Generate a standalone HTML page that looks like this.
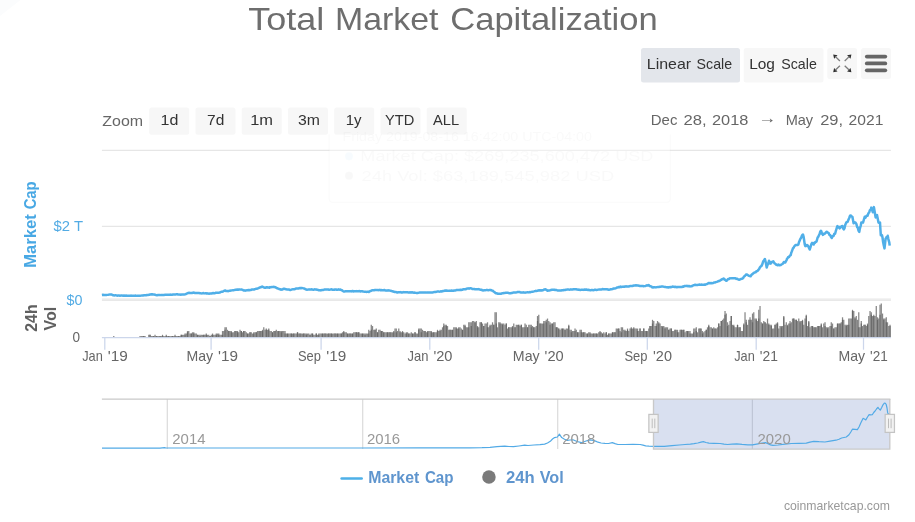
<!DOCTYPE html>
<html lang="en">
<head>
<meta charset="utf-8">
<title>Total Market Capitalization</title>
<style>
html,body{margin:0;padding:0;background:#fff;overflow:hidden}
svg{display:block}
text{font-family:"Liberation Sans", sans-serif;white-space:pre}
</style>
</head>
<body>
<svg width="915" height="522" viewBox="0 0 915 522">
<rect x="0" y="0" width="915" height="522" fill="#ffffff"/>
<path d="M0 0H20.5L0 16Z" fill="#fbfcfd"/>
<rect x="641.0" y="48.0" width="99.00" height="34.60" rx="2.5" fill="#e3e6eb"/>
<rect x="743.7" y="48.0" width="79.80" height="34.60" rx="2.5" fill="#f7f7f7"/>
<rect x="827.3" y="47.9" width="29.80" height="31.10" rx="2.5" fill="#f7f7f7"/>
<rect x="861.1" y="47.9" width="29.90" height="31.10" rx="2.5" fill="#f7f7f7"/>
<path d="M866.8 56.6H885.3" stroke="#666666" stroke-width="3.75" stroke-linecap="round" fill="none"/>
<path d="M866.8 63.45H885.3" stroke="#666666" stroke-width="3.75" stroke-linecap="round" fill="none"/>
<path d="M866.8 70.35H885.3" stroke="#666666" stroke-width="3.75" stroke-linecap="round" fill="none"/>
<path d="M833.20 54.40L837.50 55.30L834.10 58.70Z" fill="#2e2e2e"/><path d="M835.20 56.40L839.90 60.95" stroke="#7c7c7c" stroke-width="1.3" fill="none"/><path d="M851.40 54.40L847.10 55.30L850.50 58.70Z" fill="#2e2e2e"/><path d="M849.40 56.40L844.70 60.95" stroke="#7c7c7c" stroke-width="1.3" fill="none"/><path d="M833.20 72.30L837.50 71.40L834.10 68.00Z" fill="#2e2e2e"/><path d="M835.20 70.30L839.90 65.75" stroke="#7c7c7c" stroke-width="1.3" fill="none"/><path d="M851.40 72.30L847.10 71.40L850.50 68.00Z" fill="#2e2e2e"/><path d="M849.40 70.30L844.70 65.75" stroke="#7c7c7c" stroke-width="1.3" fill="none"/>
<path d="M101.9 150.3H890.9" stroke="#e6e6e6" stroke-width="1.25" fill="none"/>
<path d="M101.9 226.3H890.9" stroke="#e6e6e6" stroke-width="1.25" fill="none"/>
<path d="M101.9 298.9H890.9" stroke="#efefef" stroke-width="1.25" fill="none"/>
<path d="M101.9 300.1H890.9" stroke="#e1e1e1" stroke-width="1.25" fill="none"/>
<g fill="#5e5e5e" fill-opacity="0.75"><path d="M113.15 337.3v-1.25h1.25v1.25z"/><path d="M139.40 337.3v-1.25h1.25v1.25z"/><path d="M140.65 337.3v-1.25h1.25v1.25z"/><path d="M141.90 337.3v-1.25h1.25v1.25z"/><path d="M143.15 337.3v-1.25h1.25v1.25z"/><path d="M143.15 337.3v-1.25h1.25v1.25z"/><path d="M144.40 337.3v-1.25h1.25v1.25z"/><path d="M148.15 337.3v-2.50h1.25v2.50z"/><path d="M149.40 337.3v-2.50h1.25v2.50z"/><path d="M149.40 337.3v-2.50h1.25v2.50z"/><path d="M150.65 337.3v-1.25h1.25v1.25z"/><path d="M151.90 337.3v-1.25h1.25v1.25z"/><path d="M153.15 337.3v-1.25h1.25v1.25z"/><path d="M153.15 337.3v-1.25h1.25v1.25z"/><path d="M154.40 337.3v-2.50h1.25v2.50z"/><path d="M155.65 337.3v-1.25h1.25v1.25z"/><path d="M155.65 337.3v-1.25h1.25v1.25z"/><path d="M156.90 337.3v-1.25h1.25v1.25z"/><path d="M158.15 337.3v-1.25h1.25v1.25z"/><path d="M159.40 337.3v-1.25h1.25v1.25z"/><path d="M159.40 337.3v-1.25h1.25v1.25z"/><path d="M160.65 337.3v-1.25h1.25v1.25z"/><path d="M161.90 337.3v-2.50h1.25v2.50z"/><path d="M161.90 337.3v-1.25h1.25v1.25z"/><path d="M163.15 337.3v-1.25h1.25v1.25z"/><path d="M164.40 337.3v-1.25h1.25v1.25z"/><path d="M165.65 337.3v-2.50h1.25v2.50z"/><path d="M165.65 337.3v-1.25h1.25v1.25z"/><path d="M166.90 337.3v-1.25h1.25v1.25z"/><path d="M168.15 337.3v-1.25h1.25v1.25z"/><path d="M168.15 337.3v-1.25h1.25v1.25z"/><path d="M169.40 337.3v-1.25h1.25v1.25z"/><path d="M170.65 337.3v-1.25h1.25v1.25z"/><path d="M171.90 337.3v-1.25h1.25v1.25z"/><path d="M171.90 337.3v-1.25h1.25v1.25z"/><path d="M173.15 337.3v-1.25h1.25v1.25z"/><path d="M174.40 337.3v-1.25h1.25v1.25z"/><path d="M174.40 337.3v-2.50h1.25v2.50z"/><path d="M175.65 337.3v-1.25h1.25v1.25z"/><path d="M176.90 337.3v-1.25h1.25v1.25z"/><path d="M178.15 337.3v-1.25h1.25v1.25z"/><path d="M178.15 337.3v-1.25h1.25v1.25z"/><path d="M179.40 337.3v-1.25h1.25v1.25z"/><path d="M180.65 337.3v-2.50h1.25v2.50z"/><path d="M180.65 337.3v-2.50h1.25v2.50z"/><path d="M181.90 337.3v-2.50h1.25v2.50z"/><path d="M183.15 337.3v-2.50h1.25v2.50z"/><path d="M184.40 337.3v-2.50h1.25v2.50z"/><path d="M184.40 337.3v-3.75h1.25v3.75z"/><path d="M185.65 337.3v-3.75h1.25v3.75z"/><path d="M186.90 337.3v-5.00h1.25v5.00z"/><path d="M186.90 337.3v-6.25h1.25v6.25z"/><path d="M188.15 337.3v-6.25h1.25v6.25z"/><path d="M189.40 337.3v-3.75h1.25v3.75z"/><path d="M190.65 337.3v-3.75h1.25v3.75z"/><path d="M190.65 337.3v-3.75h1.25v3.75z"/><path d="M191.90 337.3v-5.00h1.25v5.00z"/><path d="M193.15 337.3v-3.75h1.25v3.75z"/><path d="M193.15 337.3v-5.00h1.25v5.00z"/><path d="M194.40 337.3v-3.75h1.25v3.75z"/><path d="M195.65 337.3v-3.75h1.25v3.75z"/><path d="M196.90 337.3v-2.50h1.25v2.50z"/><path d="M196.90 337.3v-2.50h1.25v2.50z"/><path d="M198.15 337.3v-2.50h1.25v2.50z"/><path d="M199.40 337.3v-1.25h1.25v1.25z"/><path d="M199.40 337.3v-2.50h1.25v2.50z"/><path d="M200.65 337.3v-2.50h1.25v2.50z"/><path d="M201.90 337.3v-2.50h1.25v2.50z"/><path d="M203.15 337.3v-2.50h1.25v2.50z"/><path d="M203.15 337.3v-2.50h1.25v2.50z"/><path d="M204.40 337.3v-2.50h1.25v2.50z"/><path d="M205.65 337.3v-3.75h1.25v3.75z"/><path d="M205.65 337.3v-2.50h1.25v2.50z"/><path d="M206.90 337.3v-2.50h1.25v2.50z"/><path d="M208.15 337.3v-2.50h1.25v2.50z"/><path d="M209.40 337.3v-1.25h1.25v1.25z"/><path d="M209.40 337.3v-1.25h1.25v1.25z"/><path d="M210.65 337.3v-2.50h1.25v2.50z"/><path d="M211.90 337.3v-3.75h1.25v3.75z"/><path d="M211.90 337.3v-2.50h1.25v2.50z"/><path d="M213.15 337.3v-2.50h1.25v2.50z"/><path d="M214.40 337.3v-2.50h1.25v2.50z"/><path d="M215.65 337.3v-2.50h1.25v2.50z"/><path d="M215.65 337.3v-3.75h1.25v3.75z"/><path d="M216.90 337.3v-3.75h1.25v3.75z"/><path d="M218.15 337.3v-3.75h1.25v3.75z"/><path d="M218.15 337.3v-2.50h1.25v2.50z"/><path d="M219.40 337.3v-2.50h1.25v2.50z"/><path d="M220.65 337.3v-2.50h1.25v2.50z"/><path d="M221.90 337.3v-2.50h1.25v2.50z"/><path d="M221.90 337.3v-6.25h1.25v6.25z"/><path d="M223.15 337.3v-6.25h1.25v6.25z"/><path d="M224.40 337.3v-7.50h1.25v7.50z"/><path d="M224.40 337.3v-10.00h1.25v10.00z"/><path d="M225.65 337.3v-10.00h1.25v10.00z"/><path d="M226.90 337.3v-7.50h1.25v7.50z"/><path d="M228.15 337.3v-6.25h1.25v6.25z"/><path d="M228.15 337.3v-6.25h1.25v6.25z"/><path d="M229.40 337.3v-6.25h1.25v6.25z"/><path d="M230.65 337.3v-5.00h1.25v5.00z"/><path d="M230.65 337.3v-6.25h1.25v6.25z"/><path d="M231.90 337.3v-5.00h1.25v5.00z"/><path d="M233.15 337.3v-5.00h1.25v5.00z"/><path d="M234.40 337.3v-6.25h1.25v6.25z"/><path d="M234.40 337.3v-6.25h1.25v6.25z"/><path d="M235.65 337.3v-6.25h1.25v6.25z"/><path d="M236.90 337.3v-6.25h1.25v6.25z"/><path d="M236.90 337.3v-5.00h1.25v5.00z"/><path d="M238.15 337.3v-5.00h1.25v5.00z"/><path d="M239.40 337.3v-7.50h1.25v7.50z"/><path d="M240.65 337.3v-6.25h1.25v6.25z"/><path d="M240.65 337.3v-6.25h1.25v6.25z"/><path d="M241.90 337.3v-5.00h1.25v5.00z"/><path d="M243.15 337.3v-6.25h1.25v6.25z"/><path d="M243.15 337.3v-6.25h1.25v6.25z"/><path d="M244.40 337.3v-6.25h1.25v6.25z"/><path d="M245.65 337.3v-5.00h1.25v5.00z"/><path d="M246.90 337.3v-3.75h1.25v3.75z"/><path d="M246.90 337.3v-3.75h1.25v3.75z"/><path d="M248.15 337.3v-3.75h1.25v3.75z"/><path d="M249.40 337.3v-5.00h1.25v5.00z"/><path d="M249.40 337.3v-5.00h1.25v5.00z"/><path d="M250.65 337.3v-5.00h1.25v5.00z"/><path d="M251.90 337.3v-3.75h1.25v3.75z"/><path d="M253.15 337.3v-3.75h1.25v3.75z"/><path d="M253.15 337.3v-5.00h1.25v5.00z"/><path d="M254.40 337.3v-5.00h1.25v5.00z"/><path d="M255.65 337.3v-5.00h1.25v5.00z"/><path d="M255.65 337.3v-5.00h1.25v5.00z"/><path d="M256.90 337.3v-6.25h1.25v6.25z"/><path d="M258.15 337.3v-6.25h1.25v6.25z"/><path d="M259.40 337.3v-6.25h1.25v6.25z"/><path d="M259.40 337.3v-6.25h1.25v6.25z"/><path d="M260.65 337.3v-6.25h1.25v6.25z"/><path d="M261.90 337.3v-6.25h1.25v6.25z"/><path d="M261.90 337.3v-7.50h1.25v7.50z"/><path d="M263.15 337.3v-10.00h1.25v10.00z"/><path d="M264.40 337.3v-7.50h1.25v7.50z"/><path d="M265.65 337.3v-7.50h1.25v7.50z"/><path d="M265.65 337.3v-8.75h1.25v8.75z"/><path d="M266.90 337.3v-7.50h1.25v7.50z"/><path d="M268.15 337.3v-8.75h1.25v8.75z"/><path d="M268.15 337.3v-7.50h1.25v7.50z"/><path d="M269.40 337.3v-6.25h1.25v6.25z"/><path d="M270.65 337.3v-6.25h1.25v6.25z"/><path d="M271.90 337.3v-5.00h1.25v5.00z"/><path d="M271.90 337.3v-5.00h1.25v5.00z"/><path d="M273.15 337.3v-6.25h1.25v6.25z"/><path d="M274.40 337.3v-6.25h1.25v6.25z"/><path d="M274.40 337.3v-6.25h1.25v6.25z"/><path d="M275.65 337.3v-7.50h1.25v7.50z"/><path d="M276.90 337.3v-6.25h1.25v6.25z"/><path d="M278.15 337.3v-6.25h1.25v6.25z"/><path d="M278.15 337.3v-6.25h1.25v6.25z"/><path d="M279.40 337.3v-6.25h1.25v6.25z"/><path d="M280.65 337.3v-6.25h1.25v6.25z"/><path d="M280.65 337.3v-5.00h1.25v5.00z"/><path d="M281.90 337.3v-6.25h1.25v6.25z"/><path d="M283.15 337.3v-6.25h1.25v6.25z"/><path d="M284.40 337.3v-6.25h1.25v6.25z"/><path d="M284.40 337.3v-3.75h1.25v3.75z"/><path d="M285.65 337.3v-3.75h1.25v3.75z"/><path d="M286.90 337.3v-3.75h1.25v3.75z"/><path d="M286.90 337.3v-3.75h1.25v3.75z"/><path d="M288.15 337.3v-3.75h1.25v3.75z"/><path d="M289.40 337.3v-3.75h1.25v3.75z"/><path d="M290.65 337.3v-3.75h1.25v3.75z"/><path d="M290.65 337.3v-3.75h1.25v3.75z"/><path d="M291.90 337.3v-3.75h1.25v3.75z"/><path d="M293.15 337.3v-3.75h1.25v3.75z"/><path d="M293.15 337.3v-3.75h1.25v3.75z"/><path d="M294.40 337.3v-3.75h1.25v3.75z"/><path d="M295.65 337.3v-3.75h1.25v3.75z"/><path d="M296.90 337.3v-5.00h1.25v5.00z"/><path d="M296.90 337.3v-5.00h1.25v5.00z"/><path d="M298.15 337.3v-3.75h1.25v3.75z"/><path d="M299.40 337.3v-3.75h1.25v3.75z"/><path d="M299.40 337.3v-3.75h1.25v3.75z"/><path d="M300.65 337.3v-3.75h1.25v3.75z"/><path d="M301.90 337.3v-3.75h1.25v3.75z"/><path d="M303.15 337.3v-3.75h1.25v3.75z"/><path d="M303.15 337.3v-3.75h1.25v3.75z"/><path d="M304.40 337.3v-3.75h1.25v3.75z"/><path d="M305.65 337.3v-3.75h1.25v3.75z"/><path d="M305.65 337.3v-2.50h1.25v2.50z"/><path d="M306.90 337.3v-3.75h1.25v3.75z"/><path d="M308.15 337.3v-3.75h1.25v3.75z"/><path d="M309.40 337.3v-2.50h1.25v2.50z"/><path d="M309.40 337.3v-2.50h1.25v2.50z"/><path d="M310.65 337.3v-3.75h1.25v3.75z"/><path d="M311.90 337.3v-3.75h1.25v3.75z"/><path d="M311.90 337.3v-3.75h1.25v3.75z"/><path d="M313.15 337.3v-2.50h1.25v2.50z"/><path d="M314.40 337.3v-2.50h1.25v2.50z"/><path d="M315.65 337.3v-3.75h1.25v3.75z"/><path d="M315.65 337.3v-3.75h1.25v3.75z"/><path d="M316.90 337.3v-2.50h1.25v2.50z"/><path d="M318.15 337.3v-2.50h1.25v2.50z"/><path d="M318.15 337.3v-3.75h1.25v3.75z"/><path d="M319.40 337.3v-3.75h1.25v3.75z"/><path d="M320.65 337.3v-3.75h1.25v3.75z"/><path d="M321.90 337.3v-3.75h1.25v3.75z"/><path d="M321.90 337.3v-3.75h1.25v3.75z"/><path d="M323.15 337.3v-3.75h1.25v3.75z"/><path d="M324.40 337.3v-3.75h1.25v3.75z"/><path d="M324.40 337.3v-3.75h1.25v3.75z"/><path d="M325.65 337.3v-3.75h1.25v3.75z"/><path d="M326.90 337.3v-3.75h1.25v3.75z"/><path d="M328.15 337.3v-3.75h1.25v3.75z"/><path d="M328.15 337.3v-3.75h1.25v3.75z"/><path d="M329.40 337.3v-3.75h1.25v3.75z"/><path d="M330.65 337.3v-3.75h1.25v3.75z"/><path d="M330.65 337.3v-3.75h1.25v3.75z"/><path d="M331.90 337.3v-3.75h1.25v3.75z"/><path d="M333.15 337.3v-3.75h1.25v3.75z"/><path d="M334.40 337.3v-3.75h1.25v3.75z"/><path d="M334.40 337.3v-3.75h1.25v3.75z"/><path d="M335.65 337.3v-3.75h1.25v3.75z"/><path d="M336.90 337.3v-3.75h1.25v3.75z"/><path d="M336.90 337.3v-3.75h1.25v3.75z"/><path d="M338.15 337.3v-3.75h1.25v3.75z"/><path d="M339.40 337.3v-3.75h1.25v3.75z"/><path d="M340.65 337.3v-3.75h1.25v3.75z"/><path d="M340.65 337.3v-3.75h1.25v3.75z"/><path d="M341.90 337.3v-5.00h1.25v5.00z"/><path d="M343.15 337.3v-6.25h1.25v6.25z"/><path d="M343.15 337.3v-5.00h1.25v5.00z"/><path d="M344.40 337.3v-5.00h1.25v5.00z"/><path d="M345.65 337.3v-5.00h1.25v5.00z"/><path d="M346.90 337.3v-3.75h1.25v3.75z"/><path d="M346.90 337.3v-3.75h1.25v3.75z"/><path d="M348.15 337.3v-3.75h1.25v3.75z"/><path d="M349.40 337.3v-3.75h1.25v3.75z"/><path d="M349.40 337.3v-3.75h1.25v3.75z"/><path d="M350.65 337.3v-3.75h1.25v3.75z"/><path d="M351.90 337.3v-3.75h1.25v3.75z"/><path d="M351.90 337.3v-3.75h1.25v3.75z"/><path d="M353.15 337.3v-5.00h1.25v5.00z"/><path d="M354.40 337.3v-5.00h1.25v5.00z"/><path d="M355.65 337.3v-5.00h1.25v5.00z"/><path d="M355.65 337.3v-5.00h1.25v5.00z"/><path d="M356.90 337.3v-5.00h1.25v5.00z"/><path d="M358.15 337.3v-5.00h1.25v5.00z"/><path d="M358.15 337.3v-5.00h1.25v5.00z"/><path d="M359.40 337.3v-3.75h1.25v3.75z"/><path d="M360.65 337.3v-3.75h1.25v3.75z"/><path d="M361.90 337.3v-3.75h1.25v3.75z"/><path d="M361.90 337.3v-3.75h1.25v3.75z"/><path d="M363.15 337.3v-3.75h1.25v3.75z"/><path d="M364.40 337.3v-2.50h1.25v2.50z"/><path d="M364.40 337.3v-3.75h1.25v3.75z"/><path d="M365.65 337.3v-3.75h1.25v3.75z"/><path d="M366.90 337.3v-3.75h1.25v3.75z"/><path d="M368.15 337.3v-3.75h1.25v3.75z"/><path d="M368.15 337.3v-7.50h1.25v7.50z"/><path d="M369.40 337.3v-6.25h1.25v6.25z"/><path d="M370.65 337.3v-7.50h1.25v7.50z"/><path d="M370.65 337.3v-12.50h1.25v12.50z"/><path d="M371.90 337.3v-11.25h1.25v11.25z"/><path d="M373.15 337.3v-7.50h1.25v7.50z"/><path d="M374.40 337.3v-7.50h1.25v7.50z"/><path d="M374.40 337.3v-7.50h1.25v7.50z"/><path d="M375.65 337.3v-8.75h1.25v8.75z"/><path d="M376.90 337.3v-5.00h1.25v5.00z"/><path d="M376.90 337.3v-5.00h1.25v5.00z"/><path d="M378.15 337.3v-7.50h1.25v7.50z"/><path d="M379.40 337.3v-7.50h1.25v7.50z"/><path d="M380.65 337.3v-6.25h1.25v6.25z"/><path d="M380.65 337.3v-6.25h1.25v6.25z"/><path d="M381.90 337.3v-6.25h1.25v6.25z"/><path d="M383.15 337.3v-5.00h1.25v5.00z"/><path d="M383.15 337.3v-5.00h1.25v5.00z"/><path d="M384.40 337.3v-5.00h1.25v5.00z"/><path d="M385.65 337.3v-5.00h1.25v5.00z"/><path d="M386.90 337.3v-5.00h1.25v5.00z"/><path d="M386.90 337.3v-5.00h1.25v5.00z"/><path d="M388.15 337.3v-5.00h1.25v5.00z"/><path d="M389.40 337.3v-5.00h1.25v5.00z"/><path d="M389.40 337.3v-5.00h1.25v5.00z"/><path d="M390.65 337.3v-5.00h1.25v5.00z"/><path d="M391.90 337.3v-5.00h1.25v5.00z"/><path d="M393.15 337.3v-5.00h1.25v5.00z"/><path d="M393.15 337.3v-6.25h1.25v6.25z"/><path d="M394.40 337.3v-8.75h1.25v8.75z"/><path d="M395.65 337.3v-8.75h1.25v8.75z"/><path d="M395.65 337.3v-5.00h1.25v5.00z"/><path d="M396.90 337.3v-6.25h1.25v6.25z"/><path d="M398.15 337.3v-8.75h1.25v8.75z"/><path d="M399.40 337.3v-6.25h1.25v6.25z"/><path d="M399.40 337.3v-5.00h1.25v5.00z"/><path d="M400.65 337.3v-5.00h1.25v5.00z"/><path d="M401.90 337.3v-5.00h1.25v5.00z"/><path d="M401.90 337.3v-6.25h1.25v6.25z"/><path d="M403.15 337.3v-5.00h1.25v5.00z"/><path d="M404.40 337.3v-3.75h1.25v3.75z"/><path d="M405.65 337.3v-3.75h1.25v3.75z"/><path d="M405.65 337.3v-5.00h1.25v5.00z"/><path d="M406.90 337.3v-5.00h1.25v5.00z"/><path d="M408.15 337.3v-3.75h1.25v3.75z"/><path d="M408.15 337.3v-3.75h1.25v3.75z"/><path d="M409.40 337.3v-3.75h1.25v3.75z"/><path d="M410.65 337.3v-5.00h1.25v5.00z"/><path d="M411.90 337.3v-3.75h1.25v3.75z"/><path d="M411.90 337.3v-3.75h1.25v3.75z"/><path d="M413.15 337.3v-3.75h1.25v3.75z"/><path d="M414.40 337.3v-5.00h1.25v5.00z"/><path d="M414.40 337.3v-5.00h1.25v5.00z"/><path d="M415.65 337.3v-3.75h1.25v3.75z"/><path d="M416.90 337.3v-3.75h1.25v3.75z"/><path d="M418.15 337.3v-7.50h1.25v7.50z"/><path d="M418.15 337.3v-8.75h1.25v8.75z"/><path d="M419.40 337.3v-8.75h1.25v8.75z"/><path d="M420.65 337.3v-8.75h1.25v8.75z"/><path d="M420.65 337.3v-5.00h1.25v5.00z"/><path d="M421.90 337.3v-7.50h1.25v7.50z"/><path d="M423.15 337.3v-6.25h1.25v6.25z"/><path d="M424.40 337.3v-6.25h1.25v6.25z"/><path d="M424.40 337.3v-6.25h1.25v6.25z"/><path d="M425.65 337.3v-5.00h1.25v5.00z"/><path d="M426.90 337.3v-5.00h1.25v5.00z"/><path d="M426.90 337.3v-6.25h1.25v6.25z"/><path d="M428.15 337.3v-6.25h1.25v6.25z"/><path d="M429.40 337.3v-6.25h1.25v6.25z"/><path d="M430.65 337.3v-6.25h1.25v6.25z"/><path d="M430.65 337.3v-5.00h1.25v5.00z"/><path d="M431.90 337.3v-5.00h1.25v5.00z"/><path d="M433.15 337.3v-5.00h1.25v5.00z"/><path d="M433.15 337.3v-5.00h1.25v5.00z"/><path d="M434.40 337.3v-5.00h1.25v5.00z"/><path d="M435.65 337.3v-5.00h1.25v5.00z"/><path d="M436.90 337.3v-6.25h1.25v6.25z"/><path d="M436.90 337.3v-7.50h1.25v7.50z"/><path d="M438.15 337.3v-6.25h1.25v6.25z"/><path d="M439.40 337.3v-7.50h1.25v7.50z"/><path d="M439.40 337.3v-6.25h1.25v6.25z"/><path d="M440.65 337.3v-7.50h1.25v7.50z"/><path d="M441.90 337.3v-10.00h1.25v10.00z"/><path d="M443.15 337.3v-13.75h1.25v13.75z"/><path d="M443.15 337.3v-11.25h1.25v11.25z"/><path d="M444.40 337.3v-12.50h1.25v12.50z"/><path d="M445.65 337.3v-12.50h1.25v12.50z"/><path d="M445.65 337.3v-11.25h1.25v11.25z"/><path d="M446.90 337.3v-11.25h1.25v11.25z"/><path d="M448.15 337.3v-7.50h1.25v7.50z"/><path d="M449.40 337.3v-7.50h1.25v7.50z"/><path d="M449.40 337.3v-7.50h1.25v7.50z"/><path d="M450.65 337.3v-7.50h1.25v7.50z"/><path d="M451.90 337.3v-7.50h1.25v7.50z"/><path d="M451.90 337.3v-7.50h1.25v7.50z"/><path d="M453.15 337.3v-10.00h1.25v10.00z"/><path d="M454.40 337.3v-10.00h1.25v10.00z"/><path d="M455.65 337.3v-10.00h1.25v10.00z"/><path d="M455.65 337.3v-8.75h1.25v8.75z"/><path d="M456.90 337.3v-8.75h1.25v8.75z"/><path d="M458.15 337.3v-10.00h1.25v10.00z"/><path d="M458.15 337.3v-8.75h1.25v8.75z"/><path d="M459.40 337.3v-10.00h1.25v10.00z"/><path d="M460.65 337.3v-8.75h1.25v8.75z"/><path d="M461.90 337.3v-7.50h1.25v7.50z"/><path d="M461.90 337.3v-7.50h1.25v7.50z"/><path d="M463.15 337.3v-12.50h1.25v12.50z"/><path d="M464.40 337.3v-12.50h1.25v12.50z"/><path d="M464.40 337.3v-11.25h1.25v11.25z"/><path d="M465.65 337.3v-10.00h1.25v10.00z"/><path d="M466.90 337.3v-10.00h1.25v10.00z"/><path d="M468.15 337.3v-10.00h1.25v10.00z"/><path d="M468.15 337.3v-15.00h1.25v15.00z"/><path d="M469.40 337.3v-15.00h1.25v15.00z"/><path d="M470.65 337.3v-15.00h1.25v15.00z"/><path d="M470.65 337.3v-11.25h1.25v11.25z"/><path d="M471.90 337.3v-16.25h1.25v16.25z"/><path d="M473.15 337.3v-16.25h1.25v16.25z"/><path d="M474.40 337.3v-15.00h1.25v15.00z"/><path d="M474.40 337.3v-15.00h1.25v15.00z"/><path d="M475.65 337.3v-16.25h1.25v16.25z"/><path d="M476.90 337.3v-10.00h1.25v10.00z"/><path d="M476.90 337.3v-11.25h1.25v11.25z"/><path d="M478.15 337.3v-10.00h1.25v10.00z"/><path d="M479.40 337.3v-15.00h1.25v15.00z"/><path d="M480.65 337.3v-15.00h1.25v15.00z"/><path d="M480.65 337.3v-15.00h1.25v15.00z"/><path d="M481.90 337.3v-13.75h1.25v13.75z"/><path d="M483.15 337.3v-11.25h1.25v11.25z"/><path d="M483.15 337.3v-11.25h1.25v11.25z"/><path d="M484.40 337.3v-13.75h1.25v13.75z"/><path d="M485.65 337.3v-13.75h1.25v13.75z"/><path d="M486.90 337.3v-15.00h1.25v15.00z"/><path d="M486.90 337.3v-10.00h1.25v10.00z"/><path d="M488.15 337.3v-10.00h1.25v10.00z"/><path d="M489.40 337.3v-12.50h1.25v12.50z"/><path d="M489.40 337.3v-11.25h1.25v11.25z"/><path d="M490.65 337.3v-12.50h1.25v12.50z"/><path d="M491.90 337.3v-15.00h1.25v15.00z"/><path d="M493.15 337.3v-12.50h1.25v12.50z"/><path d="M493.15 337.3v-12.50h1.25v12.50z"/><path d="M494.40 337.3v-25.00h1.25v25.00z"/><path d="M495.65 337.3v-25.00h1.25v25.00z"/><path d="M495.65 337.3v-13.75h1.25v13.75z"/><path d="M496.90 337.3v-10.00h1.25v10.00z"/><path d="M498.15 337.3v-15.00h1.25v15.00z"/><path d="M499.40 337.3v-13.75h1.25v13.75z"/><path d="M499.40 337.3v-15.00h1.25v15.00z"/><path d="M500.65 337.3v-13.75h1.25v13.75z"/><path d="M501.90 337.3v-12.50h1.25v12.50z"/><path d="M501.90 337.3v-13.75h1.25v13.75z"/><path d="M503.15 337.3v-13.75h1.25v13.75z"/><path d="M504.40 337.3v-12.50h1.25v12.50z"/><path d="M505.65 337.3v-13.75h1.25v13.75z"/><path d="M505.65 337.3v-13.75h1.25v13.75z"/><path d="M506.90 337.3v-8.75h1.25v8.75z"/><path d="M508.15 337.3v-10.00h1.25v10.00z"/><path d="M508.15 337.3v-10.00h1.25v10.00z"/><path d="M509.40 337.3v-10.00h1.25v10.00z"/><path d="M510.65 337.3v-10.00h1.25v10.00z"/><path d="M511.90 337.3v-10.00h1.25v10.00z"/><path d="M511.90 337.3v-11.25h1.25v11.25z"/><path d="M513.15 337.3v-13.75h1.25v13.75z"/><path d="M514.40 337.3v-10.00h1.25v10.00z"/><path d="M514.40 337.3v-10.00h1.25v10.00z"/><path d="M515.65 337.3v-12.50h1.25v12.50z"/><path d="M516.90 337.3v-12.50h1.25v12.50z"/><path d="M518.15 337.3v-12.50h1.25v12.50z"/><path d="M518.15 337.3v-12.50h1.25v12.50z"/><path d="M519.40 337.3v-11.25h1.25v11.25z"/><path d="M520.65 337.3v-12.50h1.25v12.50z"/><path d="M520.65 337.3v-12.50h1.25v12.50z"/><path d="M521.90 337.3v-10.00h1.25v10.00z"/><path d="M523.15 337.3v-10.00h1.25v10.00z"/><path d="M524.40 337.3v-10.00h1.25v10.00z"/><path d="M524.40 337.3v-13.75h1.25v13.75z"/><path d="M525.65 337.3v-12.50h1.25v12.50z"/><path d="M526.90 337.3v-10.00h1.25v10.00z"/><path d="M526.90 337.3v-10.00h1.25v10.00z"/><path d="M528.15 337.3v-12.50h1.25v12.50z"/><path d="M529.40 337.3v-12.50h1.25v12.50z"/><path d="M530.65 337.3v-12.50h1.25v12.50z"/><path d="M530.65 337.3v-10.00h1.25v10.00z"/><path d="M531.90 337.3v-11.25h1.25v11.25z"/><path d="M533.15 337.3v-10.00h1.25v10.00z"/><path d="M533.15 337.3v-10.00h1.25v10.00z"/><path d="M534.40 337.3v-10.00h1.25v10.00z"/><path d="M535.65 337.3v-11.25h1.25v11.25z"/><path d="M536.90 337.3v-16.25h1.25v16.25z"/><path d="M536.90 337.3v-21.25h1.25v21.25z"/><path d="M538.15 337.3v-22.50h1.25v22.50z"/><path d="M539.40 337.3v-13.75h1.25v13.75z"/><path d="M539.40 337.3v-13.75h1.25v13.75z"/><path d="M540.65 337.3v-13.75h1.25v13.75z"/><path d="M541.90 337.3v-13.75h1.25v13.75z"/><path d="M543.15 337.3v-13.75h1.25v13.75z"/><path d="M543.15 337.3v-16.25h1.25v16.25z"/><path d="M544.40 337.3v-16.25h1.25v16.25z"/><path d="M545.65 337.3v-15.00h1.25v15.00z"/><path d="M545.65 337.3v-17.50h1.25v17.50z"/><path d="M546.90 337.3v-18.75h1.25v18.75z"/><path d="M548.15 337.3v-16.25h1.25v16.25z"/><path d="M549.40 337.3v-15.00h1.25v15.00z"/><path d="M549.40 337.3v-12.50h1.25v12.50z"/><path d="M550.65 337.3v-13.75h1.25v13.75z"/><path d="M551.90 337.3v-13.75h1.25v13.75z"/><path d="M551.90 337.3v-13.75h1.25v13.75z"/><path d="M553.15 337.3v-15.00h1.25v15.00z"/><path d="M554.40 337.3v-15.00h1.25v15.00z"/><path d="M555.65 337.3v-10.00h1.25v10.00z"/><path d="M555.65 337.3v-10.00h1.25v10.00z"/><path d="M556.90 337.3v-10.00h1.25v10.00z"/><path d="M558.15 337.3v-8.75h1.25v8.75z"/><path d="M558.15 337.3v-8.75h1.25v8.75z"/><path d="M559.40 337.3v-7.50h1.25v7.50z"/><path d="M560.65 337.3v-8.75h1.25v8.75z"/><path d="M561.90 337.3v-8.75h1.25v8.75z"/><path d="M561.90 337.3v-8.75h1.25v8.75z"/><path d="M563.15 337.3v-8.75h1.25v8.75z"/><path d="M564.40 337.3v-7.50h1.25v7.50z"/><path d="M564.40 337.3v-7.50h1.25v7.50z"/><path d="M565.65 337.3v-8.75h1.25v8.75z"/><path d="M566.90 337.3v-8.75h1.25v8.75z"/><path d="M568.15 337.3v-12.50h1.25v12.50z"/><path d="M568.15 337.3v-11.25h1.25v11.25z"/><path d="M569.40 337.3v-7.50h1.25v7.50z"/><path d="M570.65 337.3v-7.50h1.25v7.50z"/><path d="M570.65 337.3v-5.00h1.25v5.00z"/><path d="M571.90 337.3v-6.25h1.25v6.25z"/><path d="M573.15 337.3v-6.25h1.25v6.25z"/><path d="M574.40 337.3v-6.25h1.25v6.25z"/><path d="M574.40 337.3v-8.75h1.25v8.75z"/><path d="M575.65 337.3v-7.50h1.25v7.50z"/><path d="M576.90 337.3v-5.00h1.25v5.00z"/><path d="M576.90 337.3v-5.00h1.25v5.00z"/><path d="M578.15 337.3v-5.00h1.25v5.00z"/><path d="M579.40 337.3v-7.50h1.25v7.50z"/><path d="M580.65 337.3v-7.50h1.25v7.50z"/><path d="M580.65 337.3v-5.00h1.25v5.00z"/><path d="M581.90 337.3v-5.00h1.25v5.00z"/><path d="M583.15 337.3v-5.00h1.25v5.00z"/><path d="M583.15 337.3v-5.00h1.25v5.00z"/><path d="M584.40 337.3v-5.00h1.25v5.00z"/><path d="M585.65 337.3v-3.75h1.25v3.75z"/><path d="M586.90 337.3v-3.75h1.25v3.75z"/><path d="M586.90 337.3v-3.75h1.25v3.75z"/><path d="M588.15 337.3v-5.00h1.25v5.00z"/><path d="M589.40 337.3v-5.00h1.25v5.00z"/><path d="M589.40 337.3v-3.75h1.25v3.75z"/><path d="M590.65 337.3v-3.75h1.25v3.75z"/><path d="M591.90 337.3v-3.75h1.25v3.75z"/><path d="M593.15 337.3v-3.75h1.25v3.75z"/><path d="M593.15 337.3v-3.75h1.25v3.75z"/><path d="M594.40 337.3v-3.75h1.25v3.75z"/><path d="M595.65 337.3v-3.75h1.25v3.75z"/><path d="M595.65 337.3v-3.75h1.25v3.75z"/><path d="M596.90 337.3v-3.75h1.25v3.75z"/><path d="M598.15 337.3v-5.00h1.25v5.00z"/><path d="M599.40 337.3v-5.00h1.25v5.00z"/><path d="M599.40 337.3v-6.25h1.25v6.25z"/><path d="M600.65 337.3v-5.00h1.25v5.00z"/><path d="M601.90 337.3v-3.75h1.25v3.75z"/><path d="M601.90 337.3v-3.75h1.25v3.75z"/><path d="M603.15 337.3v-5.00h1.25v5.00z"/><path d="M604.40 337.3v-3.75h1.25v3.75z"/><path d="M605.65 337.3v-5.00h1.25v5.00z"/><path d="M605.65 337.3v-5.00h1.25v5.00z"/><path d="M606.90 337.3v-2.50h1.25v2.50z"/><path d="M608.15 337.3v-3.75h1.25v3.75z"/><path d="M608.15 337.3v-3.75h1.25v3.75z"/><path d="M609.40 337.3v-3.75h1.25v3.75z"/><path d="M610.65 337.3v-3.75h1.25v3.75z"/><path d="M611.90 337.3v-5.00h1.25v5.00z"/><path d="M611.90 337.3v-5.00h1.25v5.00z"/><path d="M613.15 337.3v-5.00h1.25v5.00z"/><path d="M614.40 337.3v-5.00h1.25v5.00z"/><path d="M614.40 337.3v-5.00h1.25v5.00z"/><path d="M615.65 337.3v-8.75h1.25v8.75z"/><path d="M616.90 337.3v-8.75h1.25v8.75z"/><path d="M618.15 337.3v-8.75h1.25v8.75z"/><path d="M618.15 337.3v-8.75h1.25v8.75z"/><path d="M619.40 337.3v-6.25h1.25v6.25z"/><path d="M620.65 337.3v-5.00h1.25v5.00z"/><path d="M620.65 337.3v-10.00h1.25v10.00z"/><path d="M621.90 337.3v-10.00h1.25v10.00z"/><path d="M623.15 337.3v-7.50h1.25v7.50z"/><path d="M624.40 337.3v-7.50h1.25v7.50z"/><path d="M624.40 337.3v-6.25h1.25v6.25z"/><path d="M625.65 337.3v-6.25h1.25v6.25z"/><path d="M626.90 337.3v-8.75h1.25v8.75z"/><path d="M626.90 337.3v-7.50h1.25v7.50z"/><path d="M628.15 337.3v-6.25h1.25v6.25z"/><path d="M629.40 337.3v-8.75h1.25v8.75z"/><path d="M630.65 337.3v-8.75h1.25v8.75z"/><path d="M630.65 337.3v-10.00h1.25v10.00z"/><path d="M631.90 337.3v-8.75h1.25v8.75z"/><path d="M633.15 337.3v-8.75h1.25v8.75z"/><path d="M633.15 337.3v-10.00h1.25v10.00z"/><path d="M634.40 337.3v-8.75h1.25v8.75z"/><path d="M635.65 337.3v-8.75h1.25v8.75z"/><path d="M636.90 337.3v-8.75h1.25v8.75z"/><path d="M636.90 337.3v-6.25h1.25v6.25z"/><path d="M638.15 337.3v-6.25h1.25v6.25z"/><path d="M639.40 337.3v-8.75h1.25v8.75z"/><path d="M639.40 337.3v-8.75h1.25v8.75z"/><path d="M640.65 337.3v-6.25h1.25v6.25z"/><path d="M641.90 337.3v-6.25h1.25v6.25z"/><path d="M643.15 337.3v-8.75h1.25v8.75z"/><path d="M643.15 337.3v-8.75h1.25v8.75z"/><path d="M644.40 337.3v-6.25h1.25v6.25z"/><path d="M645.65 337.3v-6.25h1.25v6.25z"/><path d="M645.65 337.3v-6.25h1.25v6.25z"/><path d="M646.90 337.3v-6.25h1.25v6.25z"/><path d="M648.15 337.3v-8.75h1.25v8.75z"/><path d="M649.40 337.3v-11.25h1.25v11.25z"/><path d="M649.40 337.3v-11.25h1.25v11.25z"/><path d="M650.65 337.3v-11.25h1.25v11.25z"/><path d="M651.90 337.3v-13.75h1.25v13.75z"/><path d="M651.90 337.3v-17.50h1.25v17.50z"/><path d="M653.15 337.3v-16.25h1.25v16.25z"/><path d="M654.40 337.3v-11.25h1.25v11.25z"/><path d="M655.65 337.3v-11.25h1.25v11.25z"/><path d="M655.65 337.3v-13.75h1.25v13.75z"/><path d="M656.90 337.3v-16.25h1.25v16.25z"/><path d="M658.15 337.3v-15.00h1.25v15.00z"/><path d="M658.15 337.3v-13.75h1.25v13.75z"/><path d="M659.40 337.3v-13.75h1.25v13.75z"/><path d="M660.65 337.3v-11.25h1.25v11.25z"/><path d="M661.90 337.3v-10.00h1.25v10.00z"/><path d="M661.90 337.3v-11.25h1.25v11.25z"/><path d="M663.15 337.3v-11.25h1.25v11.25z"/><path d="M664.40 337.3v-10.00h1.25v10.00z"/><path d="M664.40 337.3v-8.75h1.25v8.75z"/><path d="M665.65 337.3v-10.00h1.25v10.00z"/><path d="M666.90 337.3v-10.00h1.25v10.00z"/><path d="M668.15 337.3v-7.50h1.25v7.50z"/><path d="M668.15 337.3v-7.50h1.25v7.50z"/><path d="M669.40 337.3v-8.75h1.25v8.75z"/><path d="M670.65 337.3v-8.75h1.25v8.75z"/><path d="M670.65 337.3v-8.75h1.25v8.75z"/><path d="M671.90 337.3v-6.25h1.25v6.25z"/><path d="M673.15 337.3v-6.25h1.25v6.25z"/><path d="M674.40 337.3v-7.50h1.25v7.50z"/><path d="M674.40 337.3v-7.50h1.25v7.50z"/><path d="M675.65 337.3v-7.50h1.25v7.50z"/><path d="M676.90 337.3v-7.50h1.25v7.50z"/><path d="M676.90 337.3v-5.00h1.25v5.00z"/><path d="M678.15 337.3v-5.00h1.25v5.00z"/><path d="M679.40 337.3v-7.50h1.25v7.50z"/><path d="M680.65 337.3v-7.50h1.25v7.50z"/><path d="M680.65 337.3v-7.50h1.25v7.50z"/><path d="M681.90 337.3v-7.50h1.25v7.50z"/><path d="M683.15 337.3v-7.50h1.25v7.50z"/><path d="M683.15 337.3v-7.50h1.25v7.50z"/><path d="M684.40 337.3v-5.00h1.25v5.00z"/><path d="M685.65 337.3v-6.25h1.25v6.25z"/><path d="M686.90 337.3v-6.25h1.25v6.25z"/><path d="M686.90 337.3v-6.25h1.25v6.25z"/><path d="M688.15 337.3v-6.25h1.25v6.25z"/><path d="M689.40 337.3v-6.25h1.25v6.25z"/><path d="M689.40 337.3v-3.75h1.25v3.75z"/><path d="M690.65 337.3v-3.75h1.25v3.75z"/><path d="M691.90 337.3v-3.75h1.25v3.75z"/><path d="M693.15 337.3v-5.00h1.25v5.00z"/><path d="M693.15 337.3v-8.75h1.25v8.75z"/><path d="M694.40 337.3v-8.75h1.25v8.75z"/><path d="M695.65 337.3v-10.00h1.25v10.00z"/><path d="M695.65 337.3v-6.25h1.25v6.25z"/><path d="M696.90 337.3v-5.00h1.25v5.00z"/><path d="M698.15 337.3v-8.75h1.25v8.75z"/><path d="M699.40 337.3v-8.75h1.25v8.75z"/><path d="M699.40 337.3v-8.75h1.25v8.75z"/><path d="M700.65 337.3v-8.75h1.25v8.75z"/><path d="M701.90 337.3v-6.25h1.25v6.25z"/><path d="M701.90 337.3v-3.75h1.25v3.75z"/><path d="M703.15 337.3v-5.00h1.25v5.00z"/><path d="M704.40 337.3v-6.25h1.25v6.25z"/><path d="M705.65 337.3v-7.50h1.25v7.50z"/><path d="M705.65 337.3v-7.50h1.25v7.50z"/><path d="M706.90 337.3v-10.00h1.25v10.00z"/><path d="M708.15 337.3v-11.25h1.25v11.25z"/><path d="M708.15 337.3v-12.50h1.25v12.50z"/><path d="M709.40 337.3v-10.00h1.25v10.00z"/><path d="M710.65 337.3v-10.00h1.25v10.00z"/><path d="M711.90 337.3v-8.75h1.25v8.75z"/><path d="M711.90 337.3v-8.75h1.25v8.75z"/><path d="M713.15 337.3v-10.00h1.25v10.00z"/><path d="M714.40 337.3v-8.75h1.25v8.75z"/><path d="M714.40 337.3v-8.75h1.25v8.75z"/><path d="M715.65 337.3v-8.75h1.25v8.75z"/><path d="M716.90 337.3v-10.00h1.25v10.00z"/><path d="M718.15 337.3v-13.75h1.25v13.75z"/><path d="M718.15 337.3v-13.75h1.25v13.75z"/><path d="M719.40 337.3v-11.25h1.25v11.25z"/><path d="M720.65 337.3v-16.25h1.25v16.25z"/><path d="M720.65 337.3v-16.25h1.25v16.25z"/><path d="M721.90 337.3v-17.50h1.25v17.50z"/><path d="M723.15 337.3v-18.75h1.25v18.75z"/><path d="M724.40 337.3v-26.25h1.25v26.25z"/><path d="M724.40 337.3v-22.50h1.25v22.50z"/><path d="M725.65 337.3v-23.75h1.25v23.75z"/><path d="M726.90 337.3v-15.00h1.25v15.00z"/><path d="M726.90 337.3v-11.25h1.25v11.25z"/><path d="M728.15 337.3v-12.50h1.25v12.50z"/><path d="M729.40 337.3v-16.25h1.25v16.25z"/><path d="M730.65 337.3v-21.25h1.25v21.25z"/><path d="M730.65 337.3v-21.25h1.25v21.25z"/><path d="M731.90 337.3v-12.50h1.25v12.50z"/><path d="M733.15 337.3v-11.25h1.25v11.25z"/><path d="M733.15 337.3v-12.50h1.25v12.50z"/><path d="M734.40 337.3v-10.00h1.25v10.00z"/><path d="M735.65 337.3v-10.00h1.25v10.00z"/><path d="M736.90 337.3v-12.50h1.25v12.50z"/><path d="M736.90 337.3v-12.50h1.25v12.50z"/><path d="M738.15 337.3v-10.00h1.25v10.00z"/><path d="M739.40 337.3v-10.00h1.25v10.00z"/><path d="M739.40 337.3v-10.00h1.25v10.00z"/><path d="M740.65 337.3v-6.25h1.25v6.25z"/><path d="M741.90 337.3v-6.25h1.25v6.25z"/><path d="M743.15 337.3v-12.50h1.25v12.50z"/><path d="M743.15 337.3v-13.75h1.25v13.75z"/><path d="M744.40 337.3v-25.00h1.25v25.00z"/><path d="M745.65 337.3v-17.50h1.25v17.50z"/><path d="M745.65 337.3v-15.00h1.25v15.00z"/><path d="M746.90 337.3v-12.50h1.25v12.50z"/><path d="M748.15 337.3v-17.50h1.25v17.50z"/><path d="M749.40 337.3v-20.00h1.25v20.00z"/><path d="M749.40 337.3v-17.50h1.25v17.50z"/><path d="M750.65 337.3v-17.50h1.25v17.50z"/><path d="M751.90 337.3v-15.00h1.25v15.00z"/><path d="M751.90 337.3v-23.75h1.25v23.75z"/><path d="M753.15 337.3v-25.00h1.25v25.00z"/><path d="M754.40 337.3v-18.75h1.25v18.75z"/><path d="M755.65 337.3v-17.50h1.25v17.50z"/><path d="M755.65 337.3v-18.75h1.25v18.75z"/><path d="M756.90 337.3v-16.25h1.25v16.25z"/><path d="M758.15 337.3v-18.75h1.25v18.75z"/><path d="M758.15 337.3v-27.50h1.25v27.50z"/><path d="M759.40 337.3v-31.25h1.25v31.25z"/><path d="M760.65 337.3v-15.00h1.25v15.00z"/><path d="M761.90 337.3v-13.75h1.25v13.75z"/><path d="M761.90 337.3v-13.75h1.25v13.75z"/><path d="M763.15 337.3v-16.25h1.25v16.25z"/><path d="M764.40 337.3v-15.00h1.25v15.00z"/><path d="M764.40 337.3v-15.00h1.25v15.00z"/><path d="M765.65 337.3v-13.75h1.25v13.75z"/><path d="M766.90 337.3v-18.75h1.25v18.75z"/><path d="M768.15 337.3v-12.50h1.25v12.50z"/><path d="M768.15 337.3v-13.75h1.25v13.75z"/><path d="M769.40 337.3v-12.50h1.25v12.50z"/><path d="M770.65 337.3v-11.25h1.25v11.25z"/><path d="M770.65 337.3v-12.50h1.25v12.50z"/><path d="M771.90 337.3v-8.75h1.25v8.75z"/><path d="M773.15 337.3v-8.75h1.25v8.75z"/><path d="M774.40 337.3v-12.50h1.25v12.50z"/><path d="M774.40 337.3v-12.50h1.25v12.50z"/><path d="M775.65 337.3v-13.75h1.25v13.75z"/><path d="M776.90 337.3v-13.75h1.25v13.75z"/><path d="M776.90 337.3v-15.00h1.25v15.00z"/><path d="M778.15 337.3v-8.75h1.25v8.75z"/><path d="M779.40 337.3v-11.25h1.25v11.25z"/><path d="M780.65 337.3v-10.00h1.25v10.00z"/><path d="M780.65 337.3v-11.25h1.25v11.25z"/><path d="M781.90 337.3v-11.25h1.25v11.25z"/><path d="M783.15 337.3v-20.00h1.25v20.00z"/><path d="M783.15 337.3v-21.25h1.25v21.25z"/><path d="M784.40 337.3v-12.50h1.25v12.50z"/><path d="M785.65 337.3v-15.00h1.25v15.00z"/><path d="M786.90 337.3v-12.50h1.25v12.50z"/><path d="M786.90 337.3v-11.25h1.25v11.25z"/><path d="M788.15 337.3v-13.75h1.25v13.75z"/><path d="M789.40 337.3v-16.25h1.25v16.25z"/><path d="M789.40 337.3v-13.75h1.25v13.75z"/><path d="M790.65 337.3v-15.00h1.25v15.00z"/><path d="M791.90 337.3v-18.75h1.25v18.75z"/><path d="M793.15 337.3v-18.75h1.25v18.75z"/><path d="M793.15 337.3v-18.75h1.25v18.75z"/><path d="M794.40 337.3v-17.50h1.25v17.50z"/><path d="M795.65 337.3v-17.50h1.25v17.50z"/><path d="M795.65 337.3v-17.50h1.25v17.50z"/><path d="M796.90 337.3v-16.25h1.25v16.25z"/><path d="M798.15 337.3v-18.75h1.25v18.75z"/><path d="M799.40 337.3v-16.25h1.25v16.25z"/><path d="M799.40 337.3v-15.00h1.25v15.00z"/><path d="M800.65 337.3v-16.25h1.25v16.25z"/><path d="M801.90 337.3v-17.50h1.25v17.50z"/><path d="M801.90 337.3v-16.25h1.25v16.25z"/><path d="M803.15 337.3v-12.50h1.25v12.50z"/><path d="M804.40 337.3v-18.75h1.25v18.75z"/><path d="M805.65 337.3v-21.25h1.25v21.25z"/><path d="M805.65 337.3v-22.50h1.25v22.50z"/><path d="M806.90 337.3v-11.25h1.25v11.25z"/><path d="M808.15 337.3v-16.25h1.25v16.25z"/><path d="M808.15 337.3v-15.00h1.25v15.00z"/><path d="M809.40 337.3v-10.00h1.25v10.00z"/><path d="M810.65 337.3v-11.25h1.25v11.25z"/><path d="M811.90 337.3v-11.25h1.25v11.25z"/><path d="M811.90 337.3v-11.25h1.25v11.25z"/><path d="M813.15 337.3v-10.00h1.25v10.00z"/><path d="M814.40 337.3v-10.00h1.25v10.00z"/><path d="M814.40 337.3v-10.00h1.25v10.00z"/><path d="M815.65 337.3v-10.00h1.25v10.00z"/><path d="M816.90 337.3v-11.25h1.25v11.25z"/><path d="M818.15 337.3v-11.25h1.25v11.25z"/><path d="M818.15 337.3v-11.25h1.25v11.25z"/><path d="M819.40 337.3v-11.25h1.25v11.25z"/><path d="M820.65 337.3v-12.50h1.25v12.50z"/><path d="M820.65 337.3v-13.75h1.25v13.75z"/><path d="M821.90 337.3v-10.00h1.25v10.00z"/><path d="M823.15 337.3v-13.75h1.25v13.75z"/><path d="M824.40 337.3v-15.00h1.25v15.00z"/><path d="M824.40 337.3v-11.25h1.25v11.25z"/><path d="M825.65 337.3v-10.00h1.25v10.00z"/><path d="M826.90 337.3v-8.75h1.25v8.75z"/><path d="M826.90 337.3v-10.00h1.25v10.00z"/><path d="M828.15 337.3v-10.00h1.25v10.00z"/><path d="M829.40 337.3v-11.25h1.25v11.25z"/><path d="M830.65 337.3v-11.25h1.25v11.25z"/><path d="M830.65 337.3v-15.00h1.25v15.00z"/><path d="M831.90 337.3v-13.75h1.25v13.75z"/><path d="M833.15 337.3v-8.75h1.25v8.75z"/><path d="M833.15 337.3v-8.75h1.25v8.75z"/><path d="M834.40 337.3v-10.00h1.25v10.00z"/><path d="M835.65 337.3v-10.00h1.25v10.00z"/><path d="M836.90 337.3v-13.75h1.25v13.75z"/><path d="M836.90 337.3v-13.75h1.25v13.75z"/><path d="M838.15 337.3v-13.75h1.25v13.75z"/><path d="M839.40 337.3v-13.75h1.25v13.75z"/><path d="M839.40 337.3v-13.75h1.25v13.75z"/><path d="M840.65 337.3v-15.00h1.25v15.00z"/><path d="M841.90 337.3v-17.50h1.25v17.50z"/><path d="M841.90 337.3v-20.00h1.25v20.00z"/><path d="M843.15 337.3v-17.50h1.25v17.50z"/><path d="M844.40 337.3v-12.50h1.25v12.50z"/><path d="M845.65 337.3v-11.25h1.25v11.25z"/><path d="M845.65 337.3v-12.50h1.25v12.50z"/><path d="M846.90 337.3v-12.50h1.25v12.50z"/><path d="M848.15 337.3v-12.50h1.25v12.50z"/><path d="M848.15 337.3v-18.75h1.25v18.75z"/><path d="M849.40 337.3v-18.75h1.25v18.75z"/><path d="M850.65 337.3v-18.75h1.25v18.75z"/><path d="M851.90 337.3v-26.25h1.25v26.25z"/><path d="M851.90 337.3v-27.50h1.25v27.50z"/><path d="M853.15 337.3v-26.25h1.25v26.25z"/><path d="M854.40 337.3v-18.75h1.25v18.75z"/><path d="M854.40 337.3v-20.00h1.25v20.00z"/><path d="M855.65 337.3v-21.25h1.25v21.25z"/><path d="M856.90 337.3v-17.50h1.25v17.50z"/><path d="M858.15 337.3v-25.00h1.25v25.00z"/><path d="M858.15 337.3v-10.00h1.25v10.00z"/><path d="M859.40 337.3v-10.00h1.25v10.00z"/><path d="M860.65 337.3v-16.25h1.25v16.25z"/><path d="M860.65 337.3v-13.75h1.25v13.75z"/><path d="M861.90 337.3v-11.25h1.25v11.25z"/><path d="M863.15 337.3v-12.50h1.25v12.50z"/><path d="M864.40 337.3v-12.50h1.25v12.50z"/><path d="M864.40 337.3v-12.50h1.25v12.50z"/><path d="M865.65 337.3v-11.25h1.25v11.25z"/><path d="M866.90 337.3v-13.75h1.25v13.75z"/><path d="M866.90 337.3v-12.50h1.25v12.50z"/><path d="M868.15 337.3v-21.25h1.25v21.25z"/><path d="M869.40 337.3v-26.25h1.25v26.25z"/><path d="M870.65 337.3v-25.00h1.25v25.00z"/><path d="M870.65 337.3v-22.50h1.25v22.50z"/><path d="M871.90 337.3v-21.25h1.25v21.25z"/><path d="M873.15 337.3v-22.50h1.25v22.50z"/><path d="M873.15 337.3v-21.25h1.25v21.25z"/><path d="M874.40 337.3v-21.25h1.25v21.25z"/><path d="M875.65 337.3v-31.25h1.25v31.25z"/><path d="M876.90 337.3v-20.00h1.25v20.00z"/><path d="M876.90 337.3v-17.50h1.25v17.50z"/><path d="M878.15 337.3v-18.75h1.25v18.75z"/><path d="M879.40 337.3v-22.50h1.25v22.50z"/><path d="M879.40 337.3v-32.50h1.25v32.50z"/><path d="M880.65 337.3v-33.75h1.25v33.75z"/><path d="M881.90 337.3v-23.75h1.25v23.75z"/><path d="M883.15 337.3v-17.50h1.25v17.50z"/><path d="M883.15 337.3v-18.75h1.25v18.75z"/><path d="M884.40 337.3v-18.75h1.25v18.75z"/><path d="M885.65 337.3v-20.00h1.25v20.00z"/><path d="M885.65 337.3v-15.00h1.25v15.00z"/><path d="M886.90 337.3v-15.00h1.25v15.00z"/><path d="M888.15 337.3v-11.25h1.25v11.25z"/><path d="M889.40 337.3v-11.25h1.25v11.25z"/><path d="M889.40 337.3v-12.50h1.25v12.50z"/></g>
<path d="M101.9 337.7H890.9" stroke="#ccd6eb" stroke-width="1.25" fill="none"/>
<path d="M104.8 337.7V349.7" stroke="#ccd6eb" stroke-width="1.25" fill="none"/>
<path d="M211.1 337.7V349.7" stroke="#ccd6eb" stroke-width="1.25" fill="none"/>
<path d="M321.1 337.7V349.7" stroke="#ccd6eb" stroke-width="1.25" fill="none"/>
<path d="M429.8 337.7V349.7" stroke="#ccd6eb" stroke-width="1.25" fill="none"/>
<path d="M538.7 337.7V349.7" stroke="#ccd6eb" stroke-width="1.25" fill="none"/>
<path d="M647.3 337.7V349.7" stroke="#ccd6eb" stroke-width="1.25" fill="none"/>
<path d="M756.2 337.7V349.7" stroke="#ccd6eb" stroke-width="1.25" fill="none"/>
<path d="M863.5 337.7V349.7" stroke="#ccd6eb" stroke-width="1.25" fill="none"/>
<polyline points="101.90,295.00 102.95,294.85 104.00,294.90 104.83,294.93 105.67,294.88 106.50,294.95 107.33,294.87 108.17,294.77 109.00,294.60 109.95,294.38 110.90,294.50 111.70,294.56 112.50,295.00 113.35,295.33 114.20,295.40 115.15,295.34 116.10,295.35 117.05,295.65 118.00,295.50 119.00,295.51 120.00,295.67 121.00,295.57 122.00,295.60 123.00,295.65 124.00,295.47 125.00,295.65 126.00,295.60 126.88,295.76 127.75,295.66 128.62,295.76 129.50,295.70 130.40,295.78 131.30,295.59 132.20,295.85 133.10,295.81 134.00,295.80 134.86,295.71 135.72,295.59 136.58,295.87 137.44,295.71 138.30,295.70 139.23,295.73 140.15,295.74 141.07,295.63 142.00,295.50 143.00,295.59 144.00,295.33 145.00,295.30 146.03,295.28 147.07,295.01 148.10,294.90 149.05,294.87 150.00,294.50 150.70,294.55 151.40,294.30 152.20,294.29 153.00,294.60 154.00,294.59 155.00,294.76 156.00,295.00 157.00,295.21 158.00,295.04 159.00,295.10 160.00,295.12 161.00,294.98 162.00,295.03 163.00,295.00 164.00,294.89 165.00,294.81 166.00,294.80 167.00,294.78 168.00,294.73 169.00,294.81 170.00,294.60 171.00,294.64 172.00,294.70 173.00,294.50 173.88,294.59 174.75,294.59 175.62,294.42 176.50,294.30 177.38,294.22 178.25,294.54 179.12,294.63 180.00,294.50 180.84,294.66 181.68,294.53 182.52,294.58 183.36,294.39 184.20,294.50 185.10,294.38 186.00,294.00 186.70,293.63 187.40,293.20 188.27,293.01 189.13,292.81 190.00,292.90 190.97,292.99 191.93,292.99 192.90,292.70 193.93,292.62 194.97,293.03 196.00,293.00 197.00,293.01 198.00,292.95 199.00,293.06 200.00,293.20 201.00,293.34 202.00,293.41 203.00,293.08 204.00,293.30 204.83,293.38 205.66,293.16 206.49,293.48 207.31,293.34 208.14,293.61 208.97,293.68 209.80,293.50 210.64,293.44 211.48,293.59 212.32,293.24 213.16,293.08 214.00,293.20 214.95,293.14 215.90,292.79 216.85,292.77 217.80,292.76 218.75,292.75 219.70,292.60 220.47,292.17 221.23,291.85 222.00,291.80 223.03,291.55 224.07,290.84 225.10,290.50 226.20,291.03 227.30,291.10 228.20,291.17 229.10,290.77 230.00,290.70 231.00,290.51 232.00,290.38 233.00,290.20 233.84,290.14 234.68,289.97 235.52,289.81 236.36,289.71 237.20,289.50 238.06,289.74 238.92,289.50 239.78,289.46 240.64,289.62 241.50,289.50 242.60,289.86 243.70,290.50 244.47,290.36 245.23,290.68 246.00,290.40 246.80,290.36 247.60,290.33 248.40,289.99 249.20,290.20 250.15,290.00 251.10,289.94 252.05,289.49 253.00,289.60 253.95,289.46 254.90,289.27 255.85,288.75 256.80,288.80 257.90,288.38 259.00,287.80 259.82,287.48 260.65,287.31 261.48,286.81 262.30,286.60 263.40,287.28 264.50,287.70 265.32,287.80 266.15,287.31 266.98,287.28 267.80,287.50 268.60,287.53 269.40,287.64 270.20,287.12 271.00,287.20 271.82,287.10 272.65,287.11 273.48,286.86 274.30,286.90 275.20,287.25 276.10,287.65 277.00,288.20 277.98,288.50 278.95,289.00 279.92,289.21 280.90,289.70 281.72,289.41 282.55,289.40 283.38,288.76 284.20,288.80 285.13,289.04 286.07,289.33 287.00,289.40 287.93,289.42 288.85,289.50 289.77,289.94 290.70,289.90 291.56,289.58 292.42,289.37 293.28,289.32 294.14,289.29 295.00,289.00 295.83,288.60 296.67,288.56 297.50,288.40 298.33,288.53 299.17,288.13 300.00,288.00 300.88,288.29 301.76,287.96 302.64,288.14 303.52,288.41 304.40,288.40 305.50,289.27 306.60,289.70 307.48,289.63 308.36,289.47 309.24,289.37 310.12,289.56 311.00,289.50 311.90,289.33 312.80,289.67 313.70,289.69 314.60,289.32 315.50,289.38 316.40,289.50 317.28,289.85 318.16,289.94 319.04,290.20 319.92,290.14 320.80,290.40 321.66,290.02 322.52,289.93 323.38,290.02 324.24,289.55 325.10,289.50 325.92,289.43 326.73,289.49 327.55,289.51 328.37,289.52 329.18,289.82 330.00,289.60 330.83,289.39 331.67,289.29 332.50,289.79 333.33,289.74 334.17,289.79 335.00,289.50 335.90,289.46 336.80,289.75 337.70,289.74 338.60,289.35 339.50,289.64 340.40,289.50 341.20,290.08 342.00,290.30 342.85,290.98 343.70,291.50 344.60,291.48 345.50,291.34 346.40,291.34 347.30,291.25 348.20,291.14 349.10,291.37 350.00,291.30 350.85,291.17 351.70,291.40 352.55,291.00 353.40,291.40 354.25,291.27 355.10,291.36 355.95,291.32 356.80,291.10 357.69,291.36 358.57,291.25 359.46,291.03 360.34,291.45 361.23,291.22 362.11,291.34 363.00,291.50 363.84,291.64 364.69,291.63 365.53,291.63 366.37,291.94 367.21,291.84 368.06,291.77 368.90,291.90 369.70,291.33 370.50,291.00 371.30,290.79 372.10,290.20 373.08,290.16 374.05,290.30 375.02,290.05 376.00,290.10 376.82,289.92 377.63,290.09 378.45,290.22 379.27,289.86 380.08,290.17 380.90,290.00 381.75,290.29 382.60,290.30 383.45,290.37 384.30,290.01 385.15,290.40 386.00,290.40 386.94,290.67 387.88,290.33 388.82,290.52 389.76,290.60 390.70,290.80 391.52,291.04 392.35,291.21 393.18,291.46 394.00,291.70 394.82,292.06 395.65,291.92 396.48,292.17 397.30,292.60 398.20,292.33 399.10,292.23 400.00,292.30 400.83,292.10 401.67,292.52 402.50,292.46 403.33,292.11 404.17,292.30 405.00,292.30 405.84,292.23 406.69,292.24 407.53,292.27 408.37,292.43 409.21,292.41 410.06,292.32 410.90,292.40 411.93,292.36 412.97,292.52 414.00,292.70 414.88,292.61 415.75,292.87 416.62,293.02 417.50,293.00 418.38,292.85 419.25,292.61 420.12,292.55 421.00,292.60 422.00,292.48 423.00,292.51 424.00,292.40 425.00,292.56 426.00,292.40 427.00,292.61 428.00,292.50 428.93,292.58 429.85,292.52 430.77,292.52 431.70,292.60 432.47,292.43 433.23,292.36 434.00,292.10 434.80,291.94 435.60,291.94 436.40,291.71 437.20,291.60 438.06,291.46 438.92,291.58 439.78,291.64 440.64,291.31 441.50,291.50 442.32,291.21 443.15,290.96 443.98,290.94 444.80,290.50 445.60,290.78 446.40,290.53 447.20,290.86 448.00,290.70 448.90,290.87 449.80,290.62 450.70,290.74 451.60,290.59 452.50,290.80 453.36,290.78 454.22,290.52 455.08,290.47 455.94,290.24 456.80,289.90 457.68,290.01 458.56,290.07 459.44,289.99 460.32,289.77 461.20,290.00 462.15,289.85 463.10,289.33 464.05,289.20 465.00,289.20 465.82,289.21 466.63,288.64 467.45,288.51 468.27,288.37 469.08,288.67 469.90,288.30 470.72,288.31 471.55,288.42 472.38,289.10 473.20,289.10 474.12,288.89 475.03,289.29 475.95,289.20 476.87,289.29 477.78,289.36 478.70,289.10 479.58,289.40 480.46,289.78 481.34,289.63 482.22,290.28 483.10,290.40 484.07,290.31 485.03,290.31 486.00,290.10 486.90,289.84 487.80,290.13 488.70,290.18 489.60,289.90 490.43,289.89 491.25,290.26 492.07,290.61 492.90,290.80 493.60,291.56 494.30,292.00 494.95,292.53 495.60,293.30 496.40,293.33 497.20,293.53 498.00,293.80 499.00,293.85 500.00,293.80 501.00,293.71 502.00,293.35 503.00,293.20 503.90,293.02 504.80,292.90 505.70,292.76 506.60,292.70 507.40,292.81 508.20,292.82 509.00,293.15 509.80,293.30 510.64,293.37 511.48,292.98 512.32,292.99 513.16,292.59 514.00,292.60 514.92,292.55 515.84,292.44 516.76,292.26 517.68,292.05 518.60,291.90 519.42,292.07 520.25,292.32 521.08,292.61 521.90,292.60 522.72,292.40 523.54,292.34 524.36,292.59 525.18,292.63 526.00,292.40 526.92,292.37 527.84,292.29 528.76,292.38 529.68,292.09 530.60,292.20 531.45,291.89 532.30,291.66 533.15,291.64 534.00,291.40 534.86,291.11 535.72,290.86 536.58,290.90 537.44,290.84 538.30,290.40 539.16,290.25 540.02,290.43 540.88,290.23 541.74,290.43 542.60,290.20 543.53,289.95 544.47,289.47 545.40,289.30 546.45,289.90 547.50,290.80 548.33,290.39 549.17,290.46 550.00,290.30 550.90,290.09 551.80,289.82 552.70,289.77 553.60,289.70 554.45,289.73 555.30,290.10 556.15,289.88 557.00,290.20 558.03,290.56 559.07,290.39 560.10,290.50 561.08,290.43 562.05,290.23 563.02,290.30 564.00,290.00 564.95,290.05 565.90,289.78 566.85,289.61 567.80,289.50 568.73,289.59 569.66,289.64 570.59,289.36 571.51,289.52 572.44,289.61 573.37,289.31 574.30,289.30 575.24,289.21 576.18,289.27 577.12,289.60 578.06,289.64 579.00,289.60 579.82,289.91 580.64,289.91 581.46,289.64 582.28,289.67 583.10,289.90 583.90,289.67 584.70,289.53 585.50,289.71 586.30,289.50 587.18,289.84 588.06,290.00 588.94,289.79 589.82,290.26 590.70,290.20 591.53,290.05 592.35,290.06 593.17,290.17 594.00,290.00 594.83,289.75 595.65,289.73 596.47,290.11 597.30,289.90 598.20,289.62 599.10,289.49 600.00,289.40 600.83,289.43 601.67,289.46 602.50,289.07 603.33,289.24 604.17,289.28 605.00,289.30 605.96,289.33 606.92,289.22 607.88,289.47 608.84,289.71 609.80,289.50 610.70,289.27 611.60,289.19 612.50,289.00 613.43,288.58 614.37,288.47 615.30,288.40 616.12,288.15 616.95,287.46 617.77,287.59 618.60,287.00 619.50,287.19 620.40,286.61 621.30,287.08 622.20,286.65 623.10,286.84 624.00,286.60 624.92,286.70 625.83,286.33 626.75,286.51 627.67,286.43 628.58,286.47 629.50,286.20 630.42,285.91 631.33,286.10 632.25,286.11 633.17,285.78 634.08,285.56 635.00,285.40 636.00,285.24 637.00,285.60 638.00,285.60 639.00,285.80 639.94,286.03 640.88,286.08 641.82,286.08 642.76,285.91 643.70,286.20 644.47,286.13 645.23,285.95 646.00,285.70 646.87,285.28 647.73,285.57 648.60,285.10 649.55,285.80 650.50,286.30 651.33,286.46 652.17,287.37 653.00,287.50 653.83,287.19 654.67,287.23 655.50,287.39 656.33,287.23 657.17,287.12 658.00,287.00 658.90,287.03 659.80,286.84 660.70,286.68 661.60,286.53 662.50,286.39 663.40,286.60 664.22,286.89 665.03,287.06 665.85,287.08 666.67,287.35 667.48,287.26 668.30,287.50 669.25,287.18 670.20,287.08 671.15,287.21 672.10,286.80 673.08,286.56 674.05,286.90 675.02,286.79 676.00,287.00 676.82,287.19 677.63,286.94 678.45,286.94 679.27,287.01 680.08,287.11 680.90,287.10 681.76,287.05 682.62,286.57 683.48,286.67 684.34,285.96 685.20,286.00 686.13,285.91 687.07,285.87 688.00,286.20 688.95,285.94 689.90,286.38 690.85,286.35 691.80,286.20 692.62,285.64 693.45,285.29 694.27,285.09 695.10,284.80 695.92,284.97 696.73,285.02 697.55,284.98 698.37,284.86 699.18,284.55 700.00,284.80 700.87,284.73 701.73,284.58 702.60,284.82 703.47,284.85 704.33,284.59 705.20,284.80 706.13,284.15 707.07,284.07 708.00,283.40 709.00,282.91 710.00,283.36 711.00,283.00 711.98,283.17 712.95,283.10 713.92,282.53 714.90,282.50 715.77,282.19 716.65,281.87 717.52,281.56 718.40,281.10 719.27,281.10 720.13,280.46 721.00,279.90 721.87,279.26 722.73,279.29 723.60,278.50 724.47,279.25 725.33,280.12 726.20,280.80 727.12,280.34 728.05,279.07 728.98,279.09 729.90,278.20 730.82,278.37 731.74,278.23 732.66,278.28 733.58,278.24 734.50,278.30 735.42,278.30 736.34,278.89 737.26,278.73 738.18,279.42 739.10,279.70 739.95,279.53 740.80,279.05 741.65,278.86 742.50,278.50 743.25,277.93 744.00,276.50 745.00,275.89 746.00,274.50 747.00,274.48 748.00,275.20 748.87,275.83 749.73,275.99 750.60,276.20 751.53,274.78 752.47,274.12 753.40,273.30 754.45,272.51 755.50,272.30 756.50,271.18 757.50,271.00 758.27,269.91 759.03,269.26 759.80,267.60 760.65,266.52 761.50,265.90 762.35,264.11 763.20,261.30 764.05,260.44 764.90,259.00 765.80,262.50 766.70,267.60 767.25,265.57 767.80,264.50 768.40,263.11 769.00,260.70 769.65,262.29 770.30,263.60 770.90,263.40 771.50,262.00 772.40,261.96 773.30,261.30 774.05,262.74 774.80,263.50 775.45,263.84 776.10,264.60 776.90,265.01 777.70,265.18 778.50,264.60 779.60,265.34 780.70,265.10 781.50,264.46 782.30,264.00 783.05,263.41 783.80,262.10 784.55,262.28 785.30,262.50 785.90,260.93 786.50,260.50 787.05,258.66 787.60,258.20 788.30,256.94 789.00,257.00 789.85,255.61 790.70,255.20 791.25,252.77 791.80,251.50 792.40,249.89 793.00,248.30 793.60,247.78 794.20,246.50 794.75,245.92 795.30,245.20 796.05,244.95 796.80,245.00 797.60,245.00 798.40,244.40 798.95,242.30 799.50,241.00 800.10,239.57 800.70,238.30 801.25,237.72 801.80,236.00 802.40,235.02 803.00,234.50 803.55,236.54 804.10,240.00 804.65,243.82 805.20,246.00 805.75,246.18 806.30,245.50 806.90,245.09 807.50,245.20 808.05,245.85 808.60,247.00 809.15,248.30 809.70,249.50 810.35,247.68 811.00,245.50 811.55,243.65 812.10,242.90 813.00,243.90 813.70,244.40 814.30,242.70 814.90,243.00 815.45,241.95 816.00,242.10 816.55,241.40 817.10,239.50 817.70,237.37 818.30,236.80 818.95,235.31 819.60,234.00 820.25,231.62 820.90,230.70 821.40,231.46 821.90,233.60 822.40,233.49 822.90,234.90 823.95,233.98 825.00,233.50 825.83,232.39 826.67,231.71 827.50,232.50 828.50,232.84 829.50,235.00 830.27,235.25 831.03,236.98 831.80,238.00 832.65,236.02 833.50,236.00 834.30,233.75 835.10,233.70 835.70,231.47 836.30,229.50 836.85,227.57 837.40,226.10 837.95,227.32 838.50,227.50 839.10,226.82 839.70,228.40 840.25,227.46 840.80,227.00 841.40,226.33 842.00,226.20 842.50,225.99 843.00,228.20 843.80,229.40 844.50,228.34 845.20,224.90 845.97,223.19 846.73,221.88 847.50,222.00 848.35,219.93 849.20,218.00 850.05,215.78 850.90,215.50 851.65,216.51 852.40,216.80 853.00,220.00 853.60,223.20 854.55,222.49 855.50,222.60 856.35,223.91 857.20,227.20 857.70,227.23 858.20,229.50 858.75,231.20 859.30,231.80 859.80,228.84 860.30,227.00 860.80,225.56 861.30,222.60 862.15,222.51 863.00,222.60 863.90,219.50 864.70,216.80 865.45,217.80 866.20,216.30 866.90,215.42 867.60,215.70 868.45,213.21 869.30,212.20 869.80,210.28 870.30,209.80 870.80,209.69 871.30,207.60 872.10,210.00 872.80,212.20 873.40,209.50 873.90,207.10 874.80,212.50 875.60,217.40 876.30,216.00 877.00,215.10 877.80,219.00 878.50,222.60 879.25,222.95 880.00,222.60 880.40,229.00 880.80,235.20 881.40,234.84 882.00,235.20 882.55,237.76 883.10,242.10 883.80,245.50 884.50,248.40 885.10,243.00 885.60,238.70 886.10,238.25 886.60,237.00 887.15,237.46 887.70,235.80 888.20,238.35 888.70,240.50 889.20,242.04 889.70,245.60" fill="none" stroke="#50afe8" stroke-width="2.5" stroke-linejoin="round" stroke-linecap="butt"/>
<rect x="149.20" y="107.5" width="40" height="27.3" rx="2.5" fill="#f7f7f7"/>
<rect x="195.45" y="107.5" width="40" height="27.3" rx="2.5" fill="#f7f7f7"/>
<rect x="241.70" y="107.5" width="40" height="27.3" rx="2.5" fill="#f7f7f7"/>
<rect x="287.95" y="107.5" width="40" height="27.3" rx="2.5" fill="#f7f7f7"/>
<rect x="334.20" y="107.5" width="40" height="27.3" rx="2.5" fill="#f7f7f7"/>
<rect x="380.45" y="107.5" width="40" height="27.3" rx="2.5" fill="#f7f7f7"/>
<rect x="426.70" y="107.5" width="40" height="27.3" rx="2.5" fill="#f7f7f7"/>
<path d="M167.3 399.1V449.1" stroke="#dcdcdc" stroke-width="1.25" fill="none"/>
<path d="M362.7 399.1V449.1" stroke="#dcdcdc" stroke-width="1.25" fill="none"/>
<path d="M557.7 399.1V449.1" stroke="#dcdcdc" stroke-width="1.25" fill="none"/>
<path d="M752.4 399.1V449.1" stroke="#dcdcdc" stroke-width="1.25" fill="none"/>
<rect x="653.5" y="399.1" width="236.30" height="50.00" fill="rgba(102,133,194,0.25)"/>
<polyline points="102.0,448.1 160.0,448.1 164.5,447.7 166.0,448.0 200.0,448.0 300.0,448.0 360.0,448.0 420.0,447.9 450.0,447.9 470.0,447.8 482.0,447.7 490.0,447.3 497.0,446.7 504.8,446.1 509.0,446.5 513.4,446.7 519.0,446.0 524.7,445.2 528.0,445.5 534.0,445.0 540.0,444.6 544.6,444.1 547.5,443.0 550.3,441.3 552.5,439.0 554.6,437.6 557.4,437.0 559.4,434.2 561.7,437.6 564.5,439.2 567.3,440.4 570.0,440.0 573.0,439.8 577.0,441.5 581.6,442.7 586.0,441.0 590.1,439.8 593.0,440.4 595.6,441.1 598.0,442.2 601.1,443.0 605.0,443.4 608.6,443.5 612.3,442.6 615.0,443.6 617.9,444.5 625.0,444.5 633.0,444.4 640.2,444.5 643.0,445.2 645.7,445.9 649.0,446.2 653.2,446.3 664.3,446.3 672.0,445.7 679.2,445.0 685.0,444.5 690.3,444.1 694.0,443.6 697.8,443.0 701.0,442.1 703.3,441.7 706.0,442.5 708.9,443.2 714.0,443.3 720.1,443.5 724.0,444.1 727.5,444.5 732.0,444.2 736.8,443.9 742.0,444.4 747.9,444.8 752.4,444.8 758.0,443.8 762.0,443.0 765.4,442.6 768.0,443.6 770.5,444.9 772.9,445.4 778.0,445.0 785.0,444.1 791.5,443.5 799.0,443.3 806.3,443.2 810.0,442.2 813.7,441.3 819.0,441.7 824.9,442.0 830.0,441.2 836.0,440.2 839.0,439.2 841.6,438.0 844.0,437.5 846.3,437.0 849.0,434.8 850.8,432.0 852.4,429.2 855.0,429.3 857.4,429.6 859.0,427.0 861.0,422.5 863.0,418.4 864.4,419.0 865.8,419.9 867.5,417.0 869.1,414.7 870.7,414.9 872.3,414.7 873.7,412.5 875.1,411.0 876.5,409.0 877.9,407.3 879.1,408.8 880.3,410.1 881.7,407.5 883.0,404.8 884.4,403.0 885.4,403.3 886.2,404.5 887.0,408.0 887.7,412.9 888.5,414.5 889.3,413.5 890.0,414.5" fill="none" stroke="#52aae6" stroke-width="1.2" stroke-linejoin="round"/>
<path d="M101.9 399.1H890.42" stroke="#c9c9c9" stroke-width="1.35" fill="none"/>
<path d="M653.5 399.1V449.1H889.8V399.1" stroke="#c9c9c9" stroke-width="1.35" fill="none"/>
<rect x="648.85" y="414.4" width="9.3" height="18.0" fill="#f2f2f2" stroke="#c4c4c4" stroke-width="1.25"/>
<path d="M652.20 418.59999999999997V428.2M654.80 418.59999999999997V428.2" stroke="#bdbdbd" stroke-width="1.0" fill="none"/>
<rect x="885.15" y="414.4" width="9.3" height="18.0" fill="#f2f2f2" stroke="#c4c4c4" stroke-width="1.25"/>
<path d="M888.50 418.59999999999997V428.2M891.10 418.59999999999997V428.2" stroke="#bdbdbd" stroke-width="1.0" fill="none"/>
<path d="M341.6 478.4H361.7" stroke="#4db0e8" stroke-width="2.5" stroke-linecap="round" fill="none"/>
<circle cx="488.95" cy="477.1" r="6.75" fill="#7a7a7a"/>
<path d="M329.2 134.5V198.8a3.5 3.5 0 0 0 3.5 3.5H666.9a3.5 3.5 0 0 0 3.5 -3.5V134.5Z" fill="#ffffff" fill-opacity="0.35"/><path d="M329.2 134.5V198.8a3.5 3.5 0 0 0 3.5 3.5H666.9a3.5 3.5 0 0 0 3.5 -3.5V134.5" fill="none" stroke="#666666" stroke-opacity="0.024" stroke-width="1.25"/><g opacity="0.04"><circle cx="349.0" cy="156.3" r="4.0" fill="#4eaee8"/><circle cx="349.0" cy="175.8" r="4.0" fill="#666"/></g>
<text y="30.30" font-size="32" fill="#6e6e6e"><tspan x="248.20" textLength="76.07" lengthAdjust="spacingAndGlyphs">Total</tspan> <tspan x="334.99" textLength="103.40" lengthAdjust="spacingAndGlyphs">Market</tspan> <tspan x="450.22" textLength="207.42" lengthAdjust="spacingAndGlyphs">Capitalization</tspan></text>
<text y="69.00" font-size="15" fill="#333333"><tspan x="646.84" textLength="44.26" lengthAdjust="spacingAndGlyphs">Linear</tspan> <tspan x="696.60" textLength="35.52" lengthAdjust="spacingAndGlyphs">Scale</tspan></text>
<text y="69.00" font-size="15" fill="#333333"><tspan x="749.17" textLength="25.78" lengthAdjust="spacingAndGlyphs">Log</tspan> <tspan x="781.30" textLength="35.52" lengthAdjust="spacingAndGlyphs">Scale</tspan></text>
<text x="102.30" y="126.30" textLength="40.83" lengthAdjust="spacingAndGlyphs" font-size="15" fill="#666666">Zoom</text>
<text x="160.63" y="124.80" textLength="17.83" lengthAdjust="spacingAndGlyphs" font-size="15" fill="#333333">1d</text>
<text x="207.10" y="124.80" textLength="17.25" lengthAdjust="spacingAndGlyphs" font-size="15" fill="#333333">7d</text>
<text x="250.20" y="124.80" textLength="22.84" lengthAdjust="spacingAndGlyphs" font-size="15" fill="#333333">1m</text>
<text x="297.90" y="124.80" textLength="21.92" lengthAdjust="spacingAndGlyphs" font-size="15" fill="#333333">3m</text>
<text x="345.70" y="124.80" textLength="15.80" lengthAdjust="spacingAndGlyphs" font-size="15" fill="#333333">1y</text>
<text x="384.90" y="124.80" textLength="29.34" lengthAdjust="spacingAndGlyphs" font-size="15" fill="#333333">YTD</text>
<text x="433.00" y="124.80" textLength="26.14" lengthAdjust="spacingAndGlyphs" font-size="15" fill="#333333">ALL</text>
<text y="124.70" font-size="15" fill="#666666"><tspan x="650.80" textLength="26.60" lengthAdjust="spacingAndGlyphs">Dec</tspan> <tspan x="683.60" textLength="23.09" lengthAdjust="spacingAndGlyphs">28,</tspan> <tspan x="712.00" textLength="36.37" lengthAdjust="spacingAndGlyphs">2018</tspan></text>
<text x="758.37" y="123.00" textLength="18.17" lengthAdjust="spacingAndGlyphs" font-size="15" fill="#666666">→</text>
<text y="124.70" font-size="15" fill="#666666"><tspan x="785.63" textLength="27.48" lengthAdjust="spacingAndGlyphs">May</tspan> <tspan x="820.20" textLength="22.88" lengthAdjust="spacingAndGlyphs">29,</tspan> <tspan x="848.60" textLength="34.76" lengthAdjust="spacingAndGlyphs">2021</tspan></text>
<text x="53.60" y="230.60" textLength="29.46" lengthAdjust="spacingAndGlyphs" font-size="13.75" fill="#52abe4">$2 T</text>
<text x="66.50" y="304.50" textLength="15.93" lengthAdjust="spacingAndGlyphs" font-size="13.75" fill="#52abe4">$0</text>
<text x="72.40" y="342.40" textLength="7.55" lengthAdjust="spacingAndGlyphs" font-size="13.75" fill="#666666">0</text>
<text transform="translate(35.90,0) rotate(-90)" y="0" font-size="15.6" font-weight="bold" fill="#48a8e4"><tspan x="-267.77" textLength="53.57" lengthAdjust="spacingAndGlyphs">Market</tspan> <tspan x="-209.30" textLength="27.90" lengthAdjust="spacingAndGlyphs">Cap</tspan></text>
<text transform="translate(37.30,331.80) rotate(-90)" x="0" y="0" textLength="27.44" lengthAdjust="spacingAndGlyphs" font-size="15.6" font-weight="bold" fill="#606060">24h</text>
<text transform="translate(56.00,330.60) rotate(-90)" x="0" y="0" textLength="23.74" lengthAdjust="spacingAndGlyphs" font-size="15.6" font-weight="bold" fill="#606060">Vol</text>
<text y="360.90" font-size="13.75" fill="#666666"><tspan x="82.20" textLength="20.60" lengthAdjust="spacingAndGlyphs">Jan</tspan> <tspan x="107.80" textLength="20.02" lengthAdjust="spacingAndGlyphs">'19</tspan></text>
<text y="360.90" font-size="13.75" fill="#666666"><tspan x="186.48" textLength="26.60" lengthAdjust="spacingAndGlyphs">May</tspan> <tspan x="218.10" textLength="19.92" lengthAdjust="spacingAndGlyphs">'19</tspan></text>
<text y="360.90" font-size="13.75" fill="#666666"><tspan x="297.90" textLength="22.97" lengthAdjust="spacingAndGlyphs">Sep</tspan> <tspan x="326.30" textLength="19.92" lengthAdjust="spacingAndGlyphs">'19</tspan></text>
<text y="360.90" font-size="13.75" fill="#666666"><tspan x="407.60" textLength="20.91" lengthAdjust="spacingAndGlyphs">Jan</tspan> <tspan x="433.40" textLength="19.03" lengthAdjust="spacingAndGlyphs">'20</tspan></text>
<text y="360.90" font-size="13.75" fill="#666666"><tspan x="512.87" textLength="26.80" lengthAdjust="spacingAndGlyphs">May</tspan> <tspan x="544.60" textLength="19.12" lengthAdjust="spacingAndGlyphs">'20</tspan></text>
<text y="360.90" font-size="13.75" fill="#666666"><tspan x="624.40" textLength="23.07" lengthAdjust="spacingAndGlyphs">Sep</tspan> <tspan x="653.10" textLength="18.83" lengthAdjust="spacingAndGlyphs">'20</tspan></text>
<text y="360.90" font-size="13.75" fill="#666666"><tspan x="734.20" textLength="20.60" lengthAdjust="spacingAndGlyphs">Jan</tspan> <tspan x="759.80" textLength="18.05" lengthAdjust="spacingAndGlyphs">'21</tspan></text>
<text y="360.90" font-size="13.75" fill="#666666"><tspan x="838.48" textLength="26.60" lengthAdjust="spacingAndGlyphs">May</tspan> <tspan x="870.10" textLength="17.64" lengthAdjust="spacingAndGlyphs">'21</tspan></text>
<text x="172.30" y="444.00" textLength="33.22" lengthAdjust="spacingAndGlyphs" font-size="13.75" fill="#999999">2014</text>
<text x="366.90" y="444.00" textLength="33.22" lengthAdjust="spacingAndGlyphs" font-size="13.75" fill="#999999">2016</text>
<text x="562.20" y="444.00" textLength="33.22" lengthAdjust="spacingAndGlyphs" font-size="13.75" fill="#999999">2018</text>
<text x="757.50" y="444.00" textLength="33.22" lengthAdjust="spacingAndGlyphs" font-size="13.75" fill="#999999">2020</text>
<text y="483.40" font-size="16" font-weight="bold" fill="#5f95ce"><tspan x="368.21" textLength="51.02" lengthAdjust="spacingAndGlyphs">Market</tspan> <tspan x="424.90" textLength="28.59" lengthAdjust="spacingAndGlyphs">Cap</tspan></text>
<text y="483.40" font-size="16" font-weight="bold" fill="#5f95ce"><tspan x="506.10" textLength="28.71" lengthAdjust="spacingAndGlyphs">24h</tspan> <tspan x="539.70" textLength="24.05" lengthAdjust="spacingAndGlyphs">Vol</tspan></text>
<text x="783.90" y="510.20" textLength="106.08" lengthAdjust="spacingAndGlyphs" font-size="12.1" fill="#999999">coinmarketcap.com</text>
<text x="342.46" y="140.80" textLength="249.49" lengthAdjust="spacingAndGlyphs" font-size="12.5" fill="#333333" opacity="0.024">Friday 2019-08-16 16:42:00 UTC-04:00</text>
<text x="360.33" y="160.90" textLength="293.10" lengthAdjust="spacingAndGlyphs" font-size="15.5" fill="#333333" opacity="0.024">Market Cap: $269,235,600,472 USD</text>
<text x="361.50" y="180.50" textLength="252.63" lengthAdjust="spacingAndGlyphs" font-size="15.5" fill="#333333" opacity="0.024">24h Vol: $63,189,545,982 USD</text>
</svg>
</body>
</html>
